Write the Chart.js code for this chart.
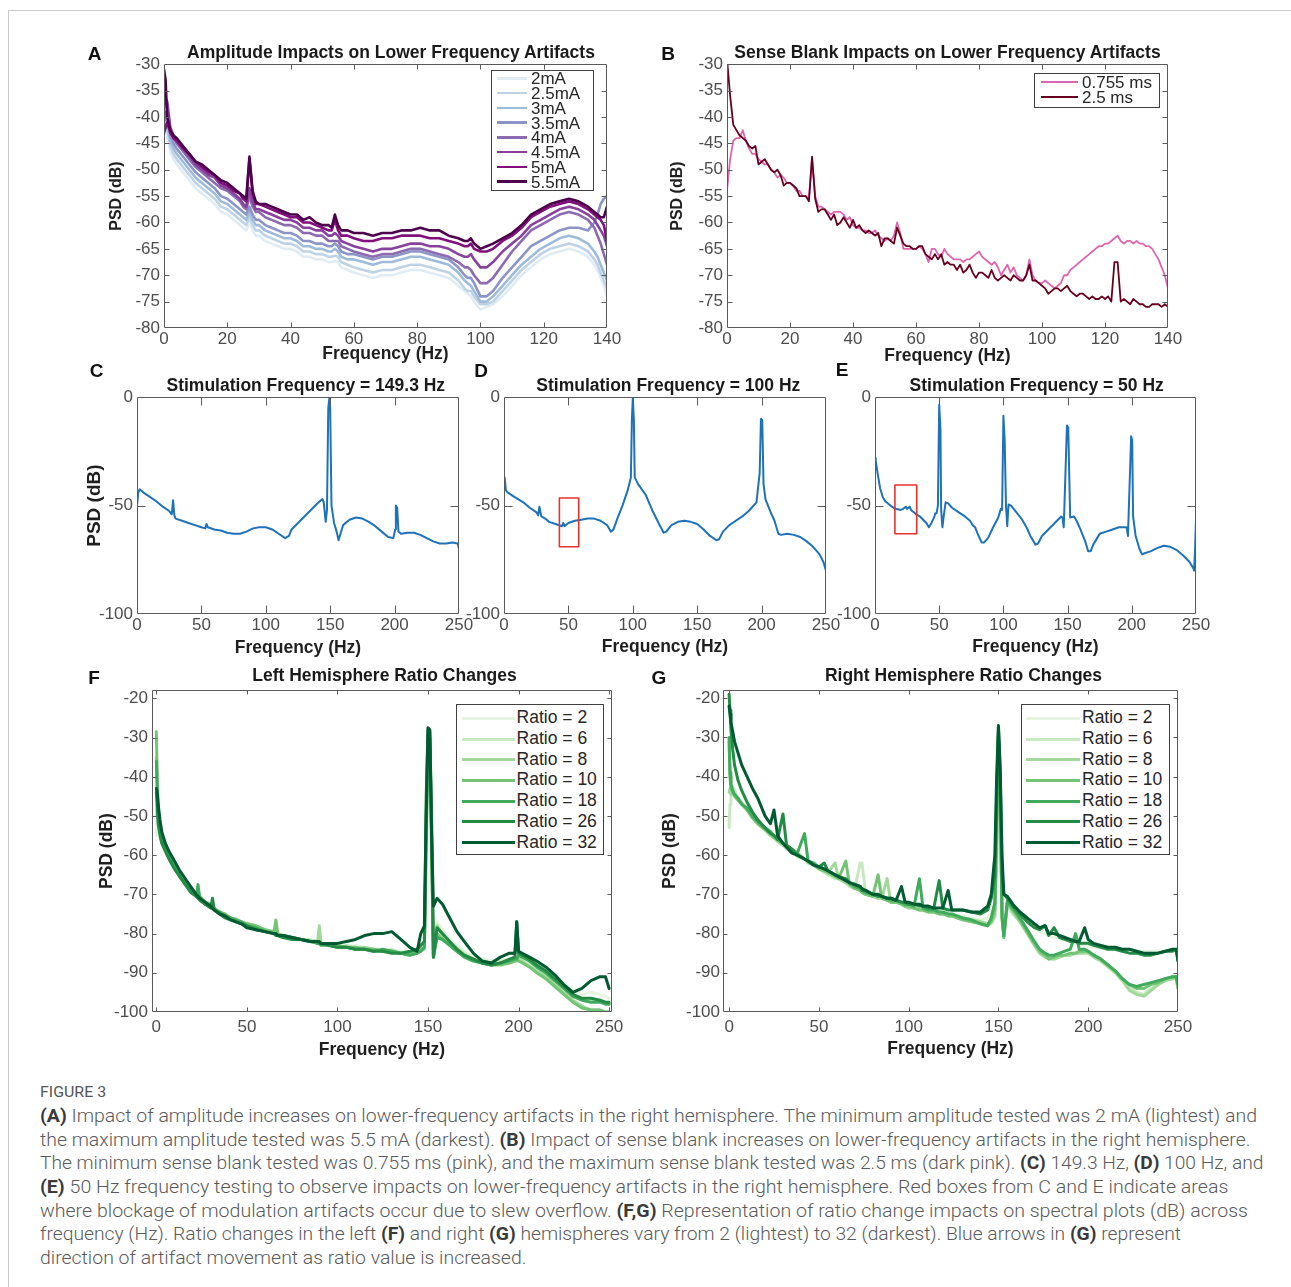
<!DOCTYPE html>
<html>
<head>
<meta charset="utf-8">
<script src="https://cdn.jsdelivr.net/npm/chart.js@4.4.1/dist/chart.umd.min.js"></script>
<style>
html,body{margin:0;padding:0;background:#fff;}
#fig{position:relative;width:1291px;height:1287px;overflow:hidden;background:#fff;font-family:"Liberation Sans",Arial,Helvetica,sans-serif;}
#card{position:absolute;left:8px;top:10px;width:1300px;height:1300px;border-top:1px solid #c9c9c9;border-left:1px solid #c9c9c9;box-sizing:border-box;}
.abs{position:absolute;white-space:nowrap;line-height:1;}
.ttl{font-weight:bold;font-size:17.5px;color:#1a1a1a;transform:translate(-50%,-50%);}
.let{font-weight:bold;font-size:19px;color:#111;transform:translate(-50%,-50%);}
.lgbox{position:absolute;border:1px solid #404040;background:#fff;box-sizing:border-box;}
.lgtxt{color:#262626;transform:translateY(-50%);}
#cap{position:absolute;left:39.5px;top:1104.9px;font-family:Roboto,"Open Sans",sans-serif;font-size:18.5px;font-weight:300;color:#5a5a5a;}
#cap div{height:23.7px;line-height:23.7px;white-space:nowrap;}
#cap span.l{display:inline-block;white-space:nowrap;transform-origin:0 50%;}
#cap b{color:#3a3a3a;font-weight:bold;}
#figlab{position:absolute;left:39.5px;top:1091.7px;transform:translateY(-50%);font-family:Roboto,"Open Sans",sans-serif;font-size:14px;color:#555;line-height:1;}
#figlab span{display:inline-block;white-space:nowrap;transform-origin:0 50%;}
</style>
</head>
<body>
<div id="fig"><div id="card"></div></div>
<script>
// ---------------- DATA ----------------
// Panel A: amplitude series (dB) over frequency (Hz)
const ampLabels = ["2mA","2.5mA","3mA","3.5mA","4mA","4.5mA","5mA","5.5mA"];
const ampColors = ["#e0ecf4","#bfd3e6","#9ebcda","#8c96c6","#8c6bb1","#88419d","#810f7c","#4d004b"];
const freqA = [0,0.5,1,2,3,4,6,8,10,12,14,16,18,20,22,24,25,26,27,28,29,30,32,34,36,38,40,42,44,46,48,50,52,53,54,55,56,58,60,63,66,69,72,75,78,81,84,87,90,93,95,96,97,98,100,102,104,107,110,113,116,119,122,125,128,131,134,136,137,138,139,140];
const psd2mA = [-43,-43,-43.5,-46.5,-48,-49,-50.5,-52,-53.5,-54.5,-55.5,-56.5,-58,-58.5,-59.5,-60.5,-61,-61.5,-60,-61.5,-62.5,-62.5,-63.5,-64,-64.5,-65,-65,-65.5,-66.5,-66.5,-67,-67,-67.5,-67.5,-67.3,-67.5,-68.5,-69,-69.5,-70,-70.5,-70,-70,-69.5,-69,-69,-69.5,-70,-70.5,-72,-73,-73.5,-74,-75,-76.5,-76,-75.5,-74,-72,-70,-68.5,-67,-66,-65.5,-65,-65.5,-66.5,-68,-69,-70.5,-72,-74];
const psd2_5mA = [-42,-42,-42.5,-45.5,-47,-48,-49.5,-51,-52.5,-53.5,-54.5,-55.5,-57,-57.5,-58.5,-59.5,-60,-60.5,-59,-60.5,-61.5,-61.5,-62.5,-63,-63.5,-64,-64,-64.5,-65.5,-65.5,-66,-66,-66.5,-66.5,-66.3,-66.5,-67.5,-68,-68.5,-69,-69.5,-69,-69,-68.5,-68,-68,-68.5,-69,-69.5,-71,-72.5,-73,-73,-74,-75.5,-75.5,-75,-73,-71,-69,-67.5,-66,-65,-64.5,-64,-64.5,-65.5,-67,-68,-69.5,-71,-72.5];
const psd3mA = [-41,-41.5,-41.5,-44.5,-46,-47,-48.5,-50,-51.5,-52.5,-53.5,-54.5,-56,-56.5,-57.5,-58.5,-59,-59.5,-58,-59.5,-60.5,-60.5,-61.5,-62,-62.5,-63,-63,-63.5,-64.5,-64.5,-65,-65,-65.5,-65.5,-65,-65.5,-66.5,-67,-67,-67.5,-68,-67.5,-67.5,-67,-66.5,-66.5,-67,-67.5,-68,-69.5,-71,-71.5,-72,-73,-75,-75,-74,-72,-70,-68,-66.5,-65,-64,-63,-62.5,-63,-64,-65.5,-66.5,-68,-69.5,-71];
const psd3_5mA = [-40,-40.5,-40,-43.5,-45,-46,-47.5,-49,-50.5,-51.5,-52.5,-53.5,-55,-55.5,-56.5,-57.5,-58,-58.5,-57,-58.5,-59.5,-59.5,-60.5,-61,-61.5,-62,-62,-62.5,-63.5,-63.5,-64,-64,-64.5,-64.5,-64,-64.5,-65.5,-66,-66,-66.5,-67,-66.5,-66.5,-66,-65.5,-65.5,-66,-66.5,-67,-68.5,-70,-70.5,-70.5,-71.5,-74,-74,-73,-70.5,-68.5,-66.5,-64.5,-63.5,-62.5,-61.5,-61,-61,-61.5,-60,-58.5,-56.5,-55.5,-55];
const psd4mA = [-41,-39,-39,-42.5,-44,-45,-46.5,-48,-49.5,-50.5,-51.5,-52.5,-53.5,-54,-55,-56,-57,-57.5,-55,-57,-58,-58,-59,-59.5,-60,-60.5,-60.5,-61,-62,-62,-62.5,-62.5,-63.5,-63.5,-63.5,-63.5,-64.5,-65,-65.5,-66,-66.5,-66,-66,-65.5,-65,-65,-65.5,-66,-66.5,-67.5,-68.5,-68.5,-69,-70,-71.5,-71.5,-70.5,-68,-65.5,-63.5,-61.5,-60.5,-59.5,-58.5,-58,-58.5,-59.5,-61,-62.5,-64,-66,-68];
const psd4_5mA = [-38.5,-36.5,-37,-42,-43.5,-44.5,-46,-47.5,-49,-50,-51,-51.5,-53,-53.5,-54.5,-55.5,-56.5,-57,-53.5,-56,-57.5,-57.5,-58,-58.5,-59,-59.5,-59.5,-60,-61,-61,-61.5,-61.5,-62.5,-62.5,-62,-62.5,-63.5,-64,-64.5,-65,-65.5,-65,-65,-64.5,-64,-64,-64.5,-64.5,-65,-66,-66.5,-66.5,-66,-67,-68.5,-68.5,-67.5,-65.5,-64,-62.5,-60.5,-59.5,-58.5,-57.5,-57,-57.5,-58.5,-59.5,-60.5,-61.5,-62.5,-64.5];
const psd5mA = [-43,-42,-41,-43,-44,-44.5,-46,-47,-48.5,-49.5,-50.5,-51,-52.5,-53,-54,-54.5,-55.5,-56,-48,-54.5,-56.5,-56.5,-57,-57.5,-58,-58.5,-59,-59,-60,-60,-60.5,-61,-61.5,-61.5,-59.5,-61.5,-62.5,-62.5,-63,-63.5,-63.5,-63,-63,-62.5,-62.5,-62.5,-63,-63,-63.5,-64,-64.5,-64.5,-64,-65,-65.5,-65.5,-65,-63.5,-62.5,-61,-59,-58,-57,-56.5,-56,-56.5,-57.5,-58.5,-59,-59.5,-60.5,-63.5];
const psd5_5mA = [-31,-33,-40,-42.5,-43.5,-44,-45.5,-47,-48.5,-49,-50,-51,-52,-52.5,-53.5,-54.5,-55,-55.5,-47.5,-54,-56,-56.5,-56.5,-57,-57.5,-58,-58.5,-58.5,-59.5,-59,-60,-60.5,-60.5,-61,-58.5,-60.5,-61.5,-61.5,-62,-62,-62.5,-62,-62,-61.5,-61.5,-61,-61.5,-61.5,-62.5,-63,-63.5,-63.5,-63,-64,-65,-64.5,-64,-63,-62,-60.5,-58.5,-57.5,-56.5,-56,-55.5,-56,-57,-58,-58.5,-59,-59,-57];
const ampSeries = [psd2mA,psd2_5mA,psd3mA,psd3_5mA,psd4mA,psd4_5mA,psd5mA,psd5_5mA];
const ticksA_x = [0,20,40,60,80,100,120,140];
const ticksA_y = [-80,-75,-70,-65,-60,-55,-50,-45,-40,-35,-30];

// Panel B: sense blank series, 1 Hz bins 0..140
const blankLabels = ["0.755 ms","2.5 ms"];
const blankColors = ["#df65b0","#67001f"];
const binStartB = 0, binEndB = 140;
const psdBlank0755 = [-54,-48,-44.5,-44,-44,-42.5,-44.5,-46,-47,-47,
 -48,-48.5,-49,-49,-50,-50.5,-51.5,-51,-51.5,-52.5,
 -52.5,-53,-54,-54,-55,-55,-55.5,-48,-55,-57,
 -57,-57.5,-58,-58.5,-58,-58,-58,-58.5,-59.5,-59,
 -60.5,-61,-61,-61.5,-61.5,-62,-62,-61.5,-62.5,-63,
 -63.5,-63,-63.5,-62.5,-60,-62,-65,-65,-65,-65,
 -65,-64.5,-65,-66,-67.5,-65,-65,-66,-66.5,-65,
 -66,-66.5,-67,-67,-67,-67.5,-67,-67,-66.5,-66,
 -65.5,-66.5,-67,-67.5,-68,-67.5,-68.5,-70,-69,-68,
 -69.5,-68.5,-70,-70.5,-71,-70,-67,-70,-71,-71.5,
 -71.5,-71,-71.5,-72,-72.5,-72,-71.5,-70,-70,-69,
 -68.5,-68,-67.5,-67,-66.5,-66,-65.5,-65,-64.5,-64.5,
 -64,-64,-63.5,-63,-62.5,-63.5,-64,-63.5,-63.5,-64,
 -63.5,-64,-64,-64.5,-64.5,-65,-66,-67,-68.5,-70,-72.5];
const psdBlank2_5 = [-29,-36,-41.5,-42.5,-43.5,-44,-44.5,-45.5,-46,-45.5,
 -49,-48.5,-48,-49,-50,-50.5,-50,-51,-53,-52.5,
 -52.5,-53,-53.5,-55,-55,-55,-56,-47.5,-55.5,-58,
 -57.5,-57.5,-58.5,-59.5,-58.5,-60.5,-60,-59,-60,-61,
 -59.5,-61,-60.5,-61.5,-62,-61.5,-62,-62.5,-62,-64.5,
 -63,-63,-63.5,-64,-61,-62.5,-64,-64.5,-64.5,-65,
 -65,-64.5,-64.5,-66,-66.5,-67,-66,-67,-66,-68,
 -67.5,-68,-68,-69,-68,-69.5,-69,-68,-69.5,-70.5,
 -69.5,-69.5,-70,-70.5,-69,-70.5,-71,-70.5,-70,-70.5,
 -71,-70,-70.5,-71,-71,-70,-68,-71,-71,-71.5,
 -72,-72.5,-73.5,-73,-72.5,-72.5,-73,-72.5,-72,-73,
 -73.5,-74,-73.5,-73.5,-74,-74.5,-74,-74.5,-74.5,-74,
 -74.5,-74,-75,-67.5,-67.5,-75,-74.5,-75,-75.5,-74.5,
 -75,-75.5,-75.5,-76,-76,-75.5,-75.5,-75.5,-76,-75.5,-76];
const blankSeries = [psdBlank0755, psdBlank2_5];
const ticksB_x = [0,20,40,60,80,100,120,140];
const ticksB_y = [-80,-75,-70,-65,-60,-55,-50,-45,-40,-35,-30];

// Panel C: stimulation 149.3 Hz
const freqC = [0,1,2,5,10,15,20,25,27,28,29,30,35,40,45,50,53,54,55,60,65,70,75,80,85,90,95,100,105,110,115,118,120,125,130,135,140,144,145,146.5,147.5,148.5,149.3,150,151,153,155,156.5,158,160,165,170,175,180,185,190,195,199,200.5,201,202,203,205,210,215,220,225,230,235,240,245,249,250];
const psdC = [-50,-44,-42.5,-44,-46,-48,-50.5,-52.5,-54,-47.5,-54.5,-56,-57,-58,-59,-60,-60.5,-58.5,-60,-61,-61.5,-62.5,-63,-63,-62,-60.5,-60,-60,-61,-63,-65,-64,-61,-58,-55,-52,-49,-47,-48.5,-57.5,-52,-5,-0.5,-5,-50,-58,-62,-66,-63,-59,-56.5,-55.5,-56,-57.5,-59.5,-62,-64.5,-65,-61,-50,-51,-62,-63,-62.5,-62.5,-63.5,-65,-66.5,-67.5,-67.5,-67,-67.5,-70];
// Panel D: stimulation 100 Hz
const freqD = [0,0.5,1.5,3,8,15,20,25,26.5,27.5,29,32,35,40,45,46,47,50,55,60,65,70,75,80,83,85,88,92,96,98.5,99.3,100,100.8,101.5,104,110,115,120,124,126,130,135,140,145,150,155,160,165,167,170,175,180,185,190,196,198.5,199.5,200.5,201.5,203,207,210,213,215,220,225,230,235,240,245,248,250];
const psdD = [-38,-37,-43,-44,-46,-48.5,-51,-53,-54.5,-50.5,-55,-56,-57.5,-58.5,-59.5,-58,-59.5,-58,-57,-56.5,-56,-56,-57,-59,-62,-61,-56,-50,-43,-37,-10,-0.5,-10,-37,-40,-45,-52,-58,-62.5,-62,-59,-57.5,-57,-57.5,-58.5,-61,-64,-66,-65.5,-62,-59,-57,-55,-52.5,-48.5,-35,-10,-10.5,-40,-47,-53,-57,-63,-63.5,-63,-63.5,-64.5,-66.5,-69,-72.5,-76,-80];
// Panel E: stimulation 50 Hz
const freqE = [0,0.5,2,4,6,8,12,16,20,22,24,25,27,28,30,32,35,40,42,44,46,47,48,49,50,51,51.5,52.5,53.5,55,57,60,65,70,74,76,78,80,83,85,88,92,96,98,99,100,101,102,103,104,106,110,114,118,121,125,127,130,135,140,145,146,147,149.5,150.5,152,155,157,160,164,166,168,170,173,175,180,185,190,195,196,197,199.5,200.3,201,203,206,208,210,215,220,225,230,235,240,245,248,248.5,249.3,250];
const psdE = [-28,-29,-35,-42,-46,-48,-50,-51.5,-52,-51.5,-50.5,-51.5,-50.5,-52,-53,-54,-55,-58,-60,-58,-55.5,-53.5,-53.5,-50,-3.5,-15,-52,-60,-55,-48.5,-49,-51,-53,-55,-57,-59,-60,-63,-67,-67,-65,-60,-55.5,-51.5,-52,-8.5,-20,-50,-59.5,-49.5,-50,-53,-56,-60,-64,-68,-67.5,-64,-61,-58,-55,-55.5,-60,-13,-14,-55.5,-55,-57,-61,-67,-71,-71,-68,-65,-63,-62,-61,-60,-60,-60,-64,-18,-20,-55,-64,-70,-72.5,-72,-71,-69.5,-68.5,-69,-70.5,-73,-76,-79,-80,-70,-56];
// red boxes (Hz, dB corners)
const boxD_x = [43,58,58,43,43];
const boxD_y = [-46.5,-46.5,-69,-69,-46.5];
const boxE_x = [15.5,32.5,32.5,15.5,15.5];
const boxE_y = [-40.5,-40.5,-63,-63,-40.5];
const ticksCDE_x = [0,50,100,150,200,250];
const ticksCDE_y = [-100,-50,0];

// Panels F, G: ratio series
const ratioLabels = ["Ratio = 2","Ratio = 6","Ratio = 8","Ratio = 10","Ratio = 18","Ratio = 26","Ratio = 32"];
const ratioColors = ["#e5f5e0","#c7e9c0","#a1d99b","#74c476","#41ab5d","#238b45","#005a32"];
const freqF = [0,0.5,1,2,3,5,7,10,13,16,19,22,23,24,27,30,31,32,35,38,41,44,47,50,55,60,65,66,67,70,75,80,85,89,90,91,95,100,105,110,115,120,125,130,135,140,144,146,148,149,150,151,152,153,155,158,162,166,170,175,180,185,190,195,198,199,200,202,206,210,215,220,225,230,235,240,245,248,250];
const leftR2 = [-55,-50,-51,-54.5,-56.5,-59,-61,-63.5,-65.5,-67,-69,-70.5,-70.5,-71,-72.5,-73,-73.5,-74,-75,-75.5,-76,-76.5,-77,-77.5,-78.5,-79,-79.5,-80,-80,-80.5,-81,-81.5,-82,-82,-82.5,-82.5,-83,-83,-83.5,-83,-83.5,-84,-84,-84.5,-84.5,-85,-85,-84.5,-84,-62,-38,-40,-62,-85,-77,-79,-81.5,-83,-84.5,-86,-86.5,-87,-87,-86.5,-86,-86,-86,-86.5,-87.5,-88.5,-90,-91.5,-93,-94.5,-95.5,-95,-95.5,-96,-96.5];
const leftR6 = [-50,-47,-49,-54,-56,-58.5,-60.5,-63,-65,-67.5,-69,-70,-70.5,-71,-72,-73,-73,-73.5,-74.5,-75.5,-76.5,-76,-77,-77.5,-78,-79,-80,-80.5,-80,-80.5,-81,-81.5,-81.5,-82,-82,-82.5,-83,-83.5,-83,-83.5,-84,-84,-84.5,-84,-85,-85,-84.5,-84,-84,-60,-35,-36,-62,-85.5,-78,-80,-82,-83.5,-85,-86.5,-87,-87.5,-87,-87,-86.5,-86.5,-86.5,-87,-88,-89,-90.5,-92,-94,-95.5,-96.5,-97,-97,-97.5,-98];
const leftR8 = [-35,-42,-49,-53.5,-56,-58.5,-60.5,-63,-65.5,-67.5,-69,-70.5,-70.5,-71,-72.5,-73,-73.5,-74,-74.5,-75.5,-76,-77,-77,-77.5,-78.5,-79.5,-80,-80,-80.5,-81,-81,-81.5,-82,-82,-78,-82.5,-83,-83,-83.5,-84,-83.5,-84,-84.5,-84.5,-85,-85.5,-85,-84.5,-84,-55,-32,-33,-58,-86,-78,-80.5,-82.5,-84,-85.5,-86.5,-87.5,-88,-87.5,-87,-86.5,-86.5,-86.5,-87,-88.5,-89.5,-91,-93,-95,-97,-98.5,-99.5,-99.5,-100,-100];
const leftR10 = [-28.5,-40,-48,-53,-55.5,-58,-60,-62.5,-65,-67,-68.5,-70,-70,-70.5,-72,-72.5,-73,-73.5,-74.5,-75,-76,-76.5,-77,-77.5,-78,-79,-79.5,-76.5,-80,-80.5,-81,-81.5,-82,-82.5,-82.5,-82.5,-83,-83,-83.5,-83.5,-84,-84,-84.5,-84.5,-85,-85,-84.5,-84,-83.5,-55,-30,-31,-56,-86,-80,-81.5,-83,-84.5,-85.5,-86.5,-87.5,-88,-88,-87.5,-87,-87,-87,-87.5,-88.5,-90,-91.5,-93.5,-95.5,-97.5,-99,-99.5,-99.5,-100,-100];
const leftR18 = [-36,-44,-50,-54,-56,-58.5,-60.5,-63,-65.5,-67,-69,-70.5,-67.5,-71,-72.5,-73,-73.5,-74,-74.5,-75.5,-76,-76.5,-77,-78,-78.5,-79.5,-80,-80,-80.5,-80.5,-81,-81.5,-82,-82.5,-82.5,-83,-83,-83.5,-83.5,-84,-84,-84.5,-84,-84.5,-85,-85.5,-85,-84.5,-83.5,-52,-29,-30,-55,-86,-81,-81.5,-83,-84.5,-86,-87,-87.5,-88,-87.5,-87,-86.5,-86.5,-85.5,-86,-87,-88.5,-90,-92,-94,-96,-97,-97.5,-97.5,-98,-98];
const leftR26 = [-44,-48,-52,-55,-57,-59,-61,-63.5,-65.5,-67.5,-69.5,-70.5,-71,-71.5,-72.5,-73.5,-71,-74,-75,-76,-76.5,-77,-77.5,-78,-79,-79.5,-80,-80.5,-80.5,-81,-81.5,-81.5,-82,-82,-82.5,-82.5,-83,-83.5,-83.5,-84,-84,-84.5,-84.5,-85,-85,-84.5,-84,-83,-82,-45,-28,-28.5,-50,-86,-78.5,-80,-82,-84,-85.5,-86.5,-87.5,-88,-87.5,-86.5,-86,-77,-85,-85.5,-86.5,-88,-89.5,-91.5,-93.5,-95.5,-96.5,-96.5,-97,-97.5,-97.5];
const leftR32 = [-43,-44,-47,-51,-54,-57,-59,-61.5,-64,-66,-68,-70,-70.5,-71,-72,-73,-73.5,-74,-75,-75.5,-76.5,-77,-77.5,-78.5,-79,-79.5,-80,-80,-80.5,-80.5,-81,-81.5,-82,-82,-82,-82.5,-82.5,-82.5,-82,-81.5,-80.5,-80,-80,-79.5,-81.5,-83.5,-84.5,-80,-78,-50,-27.5,-28,-55,-73,-71,-72.5,-76,-79.5,-82,-85,-87,-87.5,-86,-85,-85,-77,-84.5,-85,-86,-87,-88.5,-90.5,-93,-95,-94,-92,-91,-91,-94];
const leftSeries = [leftR2,leftR6,leftR8,leftR10,leftR18,leftR26,leftR32];

const freqG = [0,0.5,1,2,3,5,7,10,13,16,20,23,25,27,30,32,35,38,42,44,47,50,53,55,59,61,65,67,70,73,74,76,80,83,85,88,90,93,96,98,100,103,106,108,111,114,117,119,122,124,127,130,135,140,144,146,148,149,150,151,152,153,155,158,162,166,170,173,176,178,181,184,187,190,193,195,198,200,203,207,211,215,219,223,227,231,235,239,243,247,249,250];
const rightR2 = [-32,-38,-42,-43,-44,-45.5,-46.5,-48,-50,-51.5,-53,-54.5,-55.5,-56,-57.5,-58,-59,-60,-61,-61.5,-62.5,-63.5,-64,-64.5,-65.5,-66,-67,-67.5,-68.5,-69,-69.5,-69.5,-70.5,-70.5,-71,-71.5,-71.5,-72,-72.5,-72.5,-73,-73,-73.5,-73.5,-74,-74,-74.5,-74.5,-75,-75,-75.5,-75.5,-76,-76.5,-76,-75,-73,-60,-35,-50,-72,-79,-72,-73.5,-75,-77,-78.5,-79.5,-80,-80.5,-81,-81,-81.5,-82,-82.5,-82.5,-83,-83,-83.5,-83.5,-84,-84,-84,-84,-84.5,-84.5,-84.5,-84.5,-84.5,-84,-84,-86];
const rightR6 = [-53,-47,-44,-42.5,-43.5,-45.5,-46.5,-48.5,-50,-52,-53.5,-55,-55.5,-56.5,-57.5,-58.5,-59,-60.5,-61,-62,-62.5,-63.5,-64.5,-65,-66,-66,-67,-68,-68.5,-62,-62,-69.5,-70.5,-71,-71,-71.5,-72,-72,-72.5,-73,-73,-73.5,-73.5,-74,-74,-74.5,-74.5,-75,-75,-75.5,-75.5,-76,-76.5,-77,-78,-77.5,-76,-62,-33,-48,-74,-80.5,-73,-75,-77,-80,-83,-85,-86,-86,-86.5,-86,-85.5,-85.5,-85,-85,-84.5,-85,-85.5,-86.5,-88,-89.5,-91.5,-93.5,-95,-95.5,-94,-93,-92,-91.5,-91.5,-93];
const rightR8 = [-44,-43,-44.5,-44,-44.5,-46,-47,-48.5,-50.5,-52,-53.5,-55,-55.5,-56.5,-57.5,-58,-59,-60,-61,-62,-62.5,-63.5,-64,-64.5,-62,-66,-67,-67.5,-68.5,-69,-69.5,-70,-70.5,-71,-71,-66,-72,-72,-72.5,-73,-73.5,-73.5,-74,-74,-74.5,-74.5,-75,-75,-75.5,-75.5,-76,-76,-76.5,-77,-77.5,-77,-75.5,-60,-31,-47,-75,-81,-72,-74.5,-77,-80,-83,-85,-86,-86.5,-86.5,-86,-85.5,-85.5,-85,-85,-85,-85,-86,-87,-88.5,-90,-92,-94.5,-95.5,-96,-94.5,-93,-92,-91.5,-91.5,-94];
const rightR10 = [-31,-40,-43,-44,-45,-46,-47,-48.5,-50.5,-52,-53.5,-54.5,-55.5,-56,-57,-58,-59,-59.5,-61,-61.5,-62.5,-63.5,-64,-64.5,-65.5,-66,-61.5,-67.5,-68.5,-69,-69.5,-70,-70.5,-65,-71,-71.5,-72,-72,-72.5,-73,-73,-73.5,-74,-74,-74.5,-74.5,-75,-75,-75.5,-75.5,-76,-76.5,-77,-77.5,-78,-77,-74,-55,-30,-45,-76,-81,-72,-74,-76.5,-79.5,-82.5,-84.5,-85.5,-86.5,-86,-85.5,-85.5,-85,-85,-84.5,-84.5,-84.5,-85.5,-86.5,-88,-89.5,-91.5,-93,-94,-94,-93,-92.5,-91.5,-91,-91,-94];
const rightR18 = [-30,-39,-42,-43.5,-44.5,-45.5,-47,-48,-50,-51.5,-53,-54,-55,-56,-57,-57.5,-58.5,-59.5,-54.5,-61.5,-62,-63,-63.5,-64,-65,-65.5,-66.5,-67,-68,-68.5,-69,-69.5,-70,-70.5,-70.5,-71,-71.5,-71.5,-72,-72.5,-72.5,-73,-66,-73.5,-74,-74,-74.5,-74.5,-75,-75,-75.5,-76,-76.5,-77.5,-78,-76,-72,-50,-29,-42,-76,-80.5,-71.5,-73.5,-76,-79,-82,-84,-85,-85.5,-85.5,-85,-84.5,-84,-80,-84,-84,-84.5,-85.5,-86.5,-88,-89.5,-91.5,-93,-93.5,-93,-92.5,-92,-91.5,-91,-91,-93];
const rightR26 = [-19,-23,-28,-33,-37,-41,-43.5,-46.5,-49,-51,-53,-54.5,-55,-56,-49.5,-57.5,-58.5,-60,-61,-61.5,-62.5,-63,-62,-64,-65,-65.5,-66,-67,-67.5,-68,-69,-69,-70,-70.5,-70.5,-71,-71,-71.5,-72,-72,-72.5,-72.5,-73,-73,-73.5,-73.5,-66.5,-73.5,-74,-74,-74,-74,-74.5,-75,-74,-71,-65,-45,-27,-40,-65,-70,-71,-73,-75,-77,-78.5,-79,-78,-80.5,-78.5,-81,-81.5,-82,-82,-82.5,-82.5,-82.5,-83,-83.5,-84,-84,-84.5,-85,-85,-85.5,-85.5,-85,-84.5,-84.5,-84,-87];
const rightR32 = [-22,-24,-26,-28.5,-31,-34,-37,-40,-43,-45.5,-50,-52,-48.5,-55,-57,-58,-59.5,-60,-61,-61.5,-62.5,-63,-63.5,-64,-65,-65.5,-66.5,-67,-67.5,-68,-68.5,-69,-70,-70,-70.5,-71,-71,-71.5,-68,-72,-72,-72.5,-72.5,-73,-73,-73.5,-73.5,-73.5,-69,-74,-74,-74,-74.5,-74.5,-73,-70,-60,-40,-27,-38,-60,-70,-70.5,-72.5,-74.5,-76,-77.5,-78.5,-78,-80,-80,-80.5,-81,-81.5,-82,-82,-78.5,-81.5,-82.5,-83,-83.5,-83.5,-84,-84,-84.5,-85,-85,-85,-84.5,-84,-84,-87];
const rightSeries = [rightR2,rightR6,rightR8,rightR10,rightR18,rightR26,rightR32];
const ticksFG_x = [0,50,100,150,200,250];
const ticksFG_y = [-100,-90,-80,-70,-60,-50,-40,-30,-20];

// ---------------- RENDERING ----------------
const FONT = "'Liberation Sans', Arial, Helvetica, sans-serif";
Chart.defaults.font.family = FONT;
const TICK_COLOR = '#4d4d4d';
const LABEL_COLOR = '#1f1f1f';
const FRAME_COLOR = '#5a5a5a';
const fig = document.getElementById('fig');

function pts(xs, ys) {
  const n = Math.min(xs.length, ys.length);
  const out = [];
  for (let i = 0; i < n; i++) out.push({x: xs[i], y: ys[i]});
  return out;
}

function framePlugin(len) {
  return {
    id: 'matlabFrame',
    afterDraw(chart) {
      const {ctx, chartArea: a, scales: {x, y}} = chart;
      const l = Math.round(a.left) + 0.5, r = Math.round(a.right) - 0.5;
      const t = Math.round(a.top) + 0.5, b = Math.round(a.bottom) - 0.5;
      ctx.save();
      ctx.strokeStyle = FRAME_COLOR;
      ctx.lineWidth = 1;
      ctx.beginPath();
      ctx.rect(l, t, r - l, b - t);
      x.ticks.forEach(tk => {
        const p = Math.round(x.getPixelForValue(tk.value)) + 0.5;
        if (p <= l + 1 || p >= r - 1) return;
        ctx.moveTo(p, b); ctx.lineTo(p, b - len);
        ctx.moveTo(p, t); ctx.lineTo(p, t + len);
      });
      y.ticks.forEach(tk => {
        const p = Math.round(y.getPixelForValue(tk.value)) + 0.5;
        if (p <= t + 1 || p >= b - 1) return;
        ctx.moveTo(l, p); ctx.lineTo(l + len, p);
        ctx.moveTo(r, p); ctx.lineTo(r - len, p);
      });
      ctx.stroke();
      ctx.restore();
    }
  };
}

function makePanel(p) {
  const padTop = 14, padRight = 22;
  const cw = p.W + (p.R - p.L) + padRight;
  const ch = padTop + (p.B - p.T) + p.H;
  const cv = document.createElement('canvas');
  cv.width = cw; cv.height = ch;
  Object.assign(cv.style, {position: 'absolute', left: (p.L - p.W) + 'px', top: (p.T - padTop) + 'px', width: cw + 'px', height: ch + 'px'});
  fig.appendChild(cv);
  const xlh = p.xTitleSize * 1.2;
  const xPadB = Math.max(0, p.B + p.H - xlh / 2 - p.xTitleY);
  const yTitle = p.yTitle ? {
    display: true, text: p.yTitle, color: LABEL_COLOR,
    font: {size: p.yTitleSize, weight: 'bold'},
    padding: {top: Math.max(0, p.yTitleX - (p.L - p.W) - p.yTitleSize * 0.6), bottom: 0}
  } : {display: false};
  new Chart(cv, {
    type: 'line',
    data: {datasets: p.datasets},
    options: {
      responsive: false, maintainAspectRatio: false, animation: false, devicePixelRatio: 1,
      events: [],
      layout: {padding: {top: padTop, right: padRight, bottom: 0, left: 0}},
      plugins: {legend: {display: false}, tooltip: {enabled: false}, title: {display: false}},
      elements: {point: {radius: 0}, line: {tension: 0, borderJoinStyle: 'round', borderCapStyle: 'round'}},
      scales: {
        x: {
          type: 'linear', position: 'bottom', min: p.xr[0], max: p.xr[1],
          afterBuildTicks: s => { s.ticks = p.xt.map(v => ({value: v})); },
          afterFit: s => { s.height = p.H; },
          grid: {display: false, drawTicks: false}, border: {display: false},
          ticks: {autoSkip: false, maxRotation: 0, minRotation: 0, padding: p.xTickPad, color: TICK_COLOR, font: {size: p.tickSize}, callback: v => String(v)},
          title: {display: true, text: 'Frequency (Hz)', color: LABEL_COLOR, font: {size: p.xTitleSize, weight: 'bold'}, padding: {top: 0, bottom: xPadB}}
        },
        y: {
          type: 'linear', position: 'left', min: p.yr[0], max: p.yr[1],
          afterBuildTicks: s => { s.ticks = p.yt.map(v => ({value: v})); },
          afterFit: s => { s.width = p.W; },
          grid: {display: false, drawTicks: false}, border: {display: false},
          ticks: {autoSkip: false, padding: p.yTickPad, color: TICK_COLOR, font: {size: p.tickSize}, callback: v => String(v)},
          title: yTitle
        }
      }
    },
    plugins: [framePlugin(p.tickLen)]
  });
}

function addText(cls, txt, x, y, extra) {
  const d = document.createElement('div');
  d.className = 'abs ' + cls;
  d.textContent = txt;
  d.style.left = x + 'px'; d.style.top = y + 'px';
  if (extra) Object.assign(d.style, extra);
  fig.appendChild(d);
  return d;
}

function makeLegend(g) {
  const bx = document.createElement('div');
  bx.className = 'lgbox';
  Object.assign(bx.style, {left: g.l + 'px', top: g.t + 'px', width: (g.r - g.l) + 'px', height: (g.b - g.t) + 'px'});
  fig.appendChild(bx);
  g.labels.forEach((lab, i) => {
    const cy = g.y0 + i * g.dy;
    const ln = document.createElement('div');
    Object.assign(ln.style, {position: 'absolute', left: g.x0 + 'px', top: (cy - g.lw / 2) + 'px', width: (g.x1 - g.x0) + 'px', height: g.lw + 'px', background: g.colors[i]});
    fig.appendChild(ln);
    addText('lgtxt', lab, g.tx, cy, {fontSize: g.size + 'px'});
  });
}

function seriesSets(xs, list, colors, labels, width) {
  return list.map((ys, i) => ({
    label: labels[i], data: pts(xs, ys), borderColor: colors[i], borderWidth: width,
    pointRadius: 0, fill: false, order: list.length - 1 - i
  }));
}

const binsB = [];
for (let f = binStartB; f <= binEndB; f++) binsB.push(f);

// Panel A
makePanel({L: 164, T: 64, R: 607, B: 328, W: 62, H: 42, xr: [0, 140], yr: [-80, -30], xt: ticksA_x, yt: ticksA_y,
  tickSize: 17, tickLen: 5, xTickPad: 1, yTickPad: 4, xTitleSize: 17.5, xTitleY: 354,
  yTitle: 'PSD (dB)', yTitleSize: 16, yTitleX: 116.5,
  datasets: seriesSets(freqA, ampSeries, ampColors, ampLabels, 2.6)});
// Panel B
makePanel({L: 727, T: 64, R: 1168, B: 328, W: 62, H: 42, xr: [0, 140], yr: [-80, -30], xt: ticksB_x, yt: ticksB_y,
  tickSize: 17, tickLen: 5, xTickPad: 1.5, yTickPad: 4, xTitleSize: 17.5, xTitleY: 356.5,
  yTitle: 'PSD (dB)', yTitleSize: 16, yTitleX: 677.5,
  datasets: seriesSets(binsB, blankSeries, blankColors, blankLabels, 1.8)});
// Panels C, D, E
const BLUE = '#1f72b8', RED = '#e8312b';
makePanel({L: 137, T: 397, R: 459, B: 614, W: 56, H: 48, xr: [0, 250], yr: [-100, 0], xt: ticksCDE_x, yt: ticksCDE_y,
  tickSize: 17, tickLen: 8, xTickPad: 1, yTickPad: 4, xTitleSize: 17.5, xTitleY: 648,
  yTitle: 'PSD (dB)', yTitleSize: 19, yTitleX: 95,
  datasets: [{label: '149.3 Hz', data: pts(freqC, psdC), borderColor: BLUE, borderWidth: 2, pointRadius: 0, fill: false}]});
makePanel({L: 504, T: 397, R: 826, B: 614, W: 44, H: 48, xr: [0, 250], yr: [-100, 0], xt: ticksCDE_x, yt: ticksCDE_y,
  tickSize: 17, tickLen: 8, xTickPad: 1, yTickPad: 4, xTitleSize: 17.5, xTitleY: 647,
  datasets: [
    {label: 'box', data: pts(boxD_x, boxD_y), borderColor: RED, borderWidth: 1.6, pointRadius: 0, fill: false, order: 0},
    {label: '100 Hz', data: pts(freqD, psdD), borderColor: BLUE, borderWidth: 2, pointRadius: 0, fill: false, order: 1}]});
makePanel({L: 875, T: 397, R: 1196, B: 614, W: 44, H: 48, xr: [0, 250], yr: [-100, 0], xt: ticksCDE_x, yt: ticksCDE_y,
  tickSize: 17, tickLen: 8, xTickPad: 1, yTickPad: 4, xTitleSize: 17.5, xTitleY: 647,
  datasets: [
    {label: 'box', data: pts(boxE_x, boxE_y), borderColor: RED, borderWidth: 1.6, pointRadius: 0, fill: false, order: 0},
    {label: '50 Hz', data: pts(freqE, psdE), borderColor: BLUE, borderWidth: 2, pointRadius: 0, fill: false, order: 1}]});
// Panels F, G
makePanel({L: 152, T: 690, R: 612, B: 1012, W: 58, H: 50, xr: [-2.4, 251.6], yr: [-100, -17.9], xt: ticksFG_x, yt: ticksFG_y,
  tickSize: 17, tickLen: 4, xTickPad: 5, yTickPad: 4, xTitleSize: 17.5, xTitleY: 1050,
  yTitle: 'PSD (dB)', yTitleSize: 17.5, yTitleX: 107,
  datasets: seriesSets(freqF, leftSeries, ratioColors, ratioLabels, 3)});
makePanel({L: 723, T: 690, R: 1178, B: 1012, W: 65, H: 50, xr: [-3.4, 250], yr: [-100, -17.9], xt: ticksFG_x, yt: ticksFG_y,
  tickSize: 17, tickLen: 4, xTickPad: 5, yTickPad: 3, xTitleSize: 17.5, xTitleY: 1049,
  yTitle: 'PSD (dB)', yTitleSize: 17.5, yTitleX: 670.5,
  datasets: seriesSets(freqG, rightSeries, ratioColors, ratioLabels, 3)});

// Titles and panel letters
const panelTitles = [
  ['Amplitude Impacts on Lower Frequency Artifacts', 391, 52.5],
  ['Sense Blank Impacts on Lower Frequency Artifacts', 947.5, 52.7],
  ['Stimulation Frequency = 149.3 Hz', 305.8, 385.5],
  ['Stimulation Frequency = 100 Hz', 668.3, 385.5],
  ['Stimulation Frequency = 50 Hz', 1036.7, 386],
  ['Left Hemisphere Ratio Changes', 384.5, 676],
  ['Right Hemisphere Ratio Changes', 963.5, 676]
];
panelTitles.forEach(t => addText('ttl', t[0], t[1], t[2]));
const panelLetters = [['A', 94.5, 53.3], ['B', 668, 53], ['C', 96.7, 370], ['D', 481, 370], ['E', 842, 369], ['F', 94, 677], ['G', 659, 677]];
panelLetters.forEach(t => addText('let', t[0], t[1], t[2]));

// Legends
makeLegend({l: 491, t: 69.5, r: 594, b: 190.5, x0: 497, x1: 526.5, tx: 531, y0: 78.3, dy: 14.77, size: 17, lw: 2.6, labels: ampLabels, colors: ampColors});
makeLegend({l: 1034, t: 72.7, r: 1160, b: 107.7, x0: 1040.5, x1: 1077.5, tx: 1082, y0: 81.7, dy: 15.6, size: 17, lw: 2, labels: blankLabels, colors: blankColors});
makeLegend({l: 455.5, t: 704.3, r: 604, b: 855, x0: 461.7, x1: 515.5, tx: 516.6, y0: 718.3, dy: 20.73, size: 17.5, lw: 3, labels: ratioLabels, colors: ratioColors});
makeLegend({l: 1020.5, t: 704, r: 1169.5, b: 855, x0: 1026, x1: 1080, tx: 1082, y0: 718.3, dy: 20.73, size: 17.5, lw: 3, labels: ratioLabels, colors: ratioColors});

// Caption
const captionLines = [
  '<b>(A)</b> Impact of amplitude increases on lower-frequency artifacts in the right hemisphere. The minimum amplitude tested was 2 mA (lightest) and',
  'the maximum amplitude tested was 5.5 mA (darkest). <b>(B)</b> Impact of sense blank increases on lower-frequency artifacts in the right hemisphere.',
  'The minimum sense blank tested was 0.755 ms (pink), and the maximum sense blank tested was 2.5 ms (dark pink). <b>(C)</b> 149.3 Hz, <b>(D)</b> 100 Hz, and',
  '<b>(E)</b> 50 Hz frequency testing to observe impacts on lower-frequency artifacts in the right hemisphere. Red boxes from C and E indicate areas',
  'where blockage of modulation artifacts occur due to slew overflow. <b>(F,G)</b> Representation of ratio change impacts on spectral plots (dB) across',
  'frequency (Hz). Ratio changes in the left <b>(F)</b> and right <b>(G)</b> hemispheres vary from 2 (lightest) to 32 (darkest). Blue arrows in <b>(G)</b> represent',
  'direction of artifact movement as ratio value is increased.'
];
const captionRight = [1256, 1250, 1263, 1228, 1248, 1180, 526];
const cap = document.createElement('div');
cap.id = 'cap';
captionLines.forEach(h => {
  const row = document.createElement('div');
  const sp = document.createElement('span');
  sp.className = 'l';
  sp.innerHTML = h;
  row.appendChild(sp);
  cap.appendChild(row);
});
fig.appendChild(cap);
const figLab = document.createElement('div');
figLab.id = 'figlab';
figLab.innerHTML = '<span>FIGURE 3</span>';
fig.appendChild(figLab);

function fitText() {
  const spans = cap.querySelectorAll('span.l');
  spans.forEach((sp, i) => {
    sp.style.transform = 'none';
    const w = sp.offsetWidth;
    const target = captionRight[i] - 39.5;
    sp.style.transform = 'scaleX(' + (target / w) + ')';
  });
  const fs = figLab.querySelector('span');
  fs.style.transform = 'none';
  const w2 = fs.offsetWidth;
  fs.style.transform = 'scaleX(' + (66 / w2) + ')';
}
fitText();
if (document.fonts && document.fonts.ready) document.fonts.ready.then(fitText);
</script>
</body>
</html>
